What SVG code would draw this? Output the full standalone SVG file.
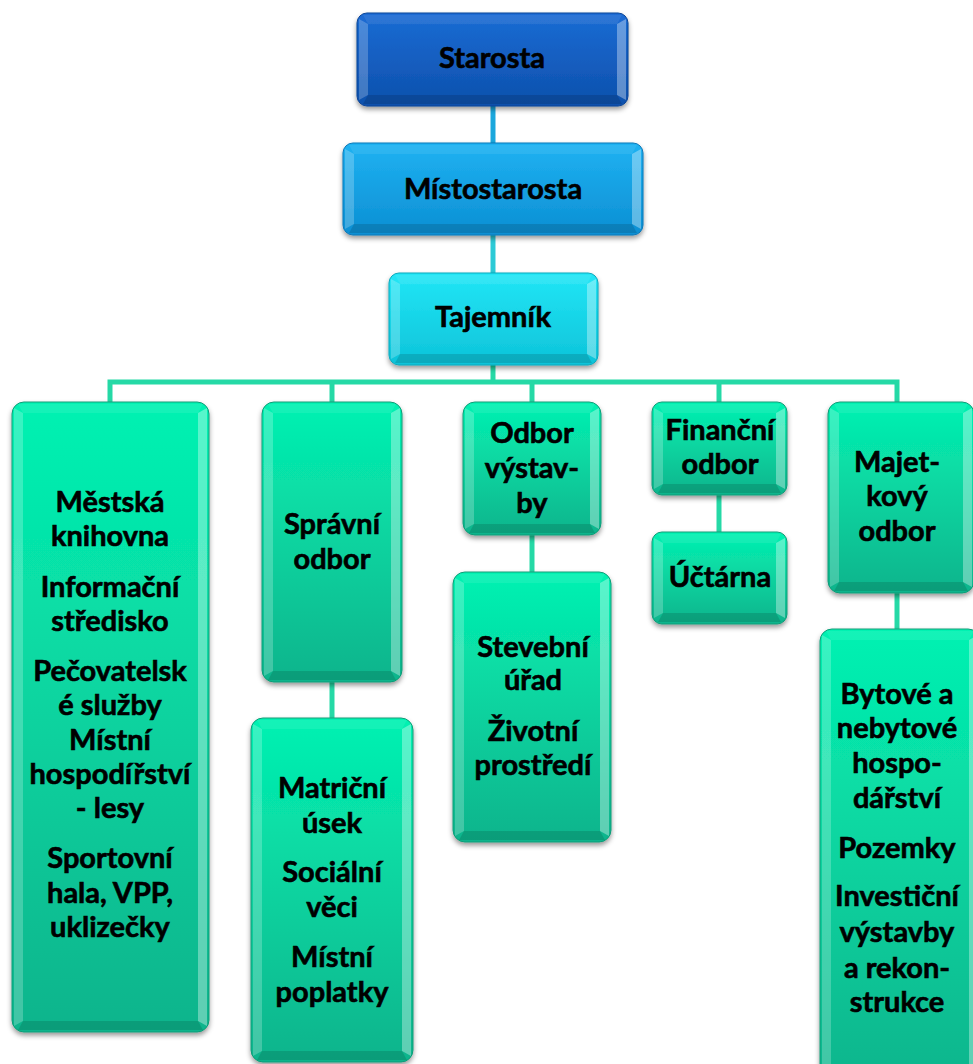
<svg xmlns="http://www.w3.org/2000/svg" width="973" height="1064" viewBox="0 0 973 1064">
<style>
.t{font-family:Lato,"Open Sans","Liberation Sans",sans-serif;font-weight:700;font-size:29px;fill:#000;stroke:#000;stroke-width:.6;text-anchor:middle}
.box{filter:url(#sh)}
.g{fill:url(#gGreen);stroke:#0f9c78;stroke-width:1}
.b1{fill:url(#gBlue1);stroke:#0a4596;stroke-width:1}
.b2{fill:url(#gBlue2);stroke:#0a78b8;stroke-width:1}
.b3{fill:url(#gCyan);stroke:#0aa8bc;stroke-width:1}
.bl{fill:#fff;opacity:.22}
.br{fill:#fff;opacity:.34}
.bb{fill:#000;opacity:.13}
.bt{fill:#fff;opacity:.08}
.c{stroke-width:5;fill:none}
</style>
<defs>
<linearGradient id="gGreen" x1="0" y1="0" x2="0" y2="1"><stop offset="0" stop-color="#03f2b2"/><stop offset="1" stop-color="#11b48c"/></linearGradient>
<linearGradient id="gBlue1" x1="0" y1="0" x2="0" y2="1"><stop offset="0" stop-color="#1b6cd4"/><stop offset="1" stop-color="#0d50ac"/></linearGradient>
<linearGradient id="gBlue2" x1="0" y1="0" x2="0" y2="1"><stop offset="0" stop-color="#1fb2f2"/><stop offset="1" stop-color="#0c8fd3"/></linearGradient>
<linearGradient id="gCyan" x1="0" y1="0" x2="0" y2="1"><stop offset="0" stop-color="#22e6f6"/><stop offset="1" stop-color="#0dc3d9"/></linearGradient>
<filter id="sh" x="-10%" y="-10%" width="120%" height="125%"><feDropShadow dx="0" dy="3" stdDeviation="2.5" flood-color="#000" flood-opacity=".4"/></filter>
</defs>
<rect width="973" height="1064" fill="#fff"/>
<g id="connectors">
<line class="c" x1="493" y1="106" x2="493" y2="143" stroke="#1ba7dc"/>
<line class="c" x1="493" y1="235" x2="493" y2="273" stroke="#2ccad6"/>
<line class="c" x1="493" y1="365" x2="493" y2="384" stroke="#25d9a6"/>
<polyline class="c" points="110,402 110,382 897,382 897,402" stroke="#25d9a6"/>
<line class="c" x1="332" y1="382" x2="332" y2="402" stroke="#25d9a6"/>
<line class="c" x1="532" y1="382" x2="532" y2="402" stroke="#25d9a6"/>
<line class="c" x1="719" y1="382" x2="719" y2="402" stroke="#25d9a6"/>
<line class="c" x1="332" y1="682" x2="332" y2="718" stroke="#25d9a6"/>
<line class="c" x1="532" y1="535" x2="532" y2="572" stroke="#25d9a6"/>
<line class="c" x1="719" y1="495" x2="719" y2="532" stroke="#25d9a6"/>
<line class="c" x1="897" y1="593" x2="897" y2="629" stroke="#25d9a6"/>
</g>
<g id="starosta">
<rect class="box b1" x="357" y="13" width="271" height="93" rx="10"/>
<polygon class="bt" points="363,15 368,24 617,24 622,15"/>
<polygon class="bl" points="359,19 368,24 368,95 359,100"/>
<polygon class="br" points="626,19 617,24 617,95 626,100"/>
<polygon class="bb" points="363,104 368,95 617,95 622,104"/>
<text class="t" x="492" y="68">Starosta</text>
</g>
<g id="mistostarosta">
<rect class="box b2" x="343" y="143" width="300" height="92" rx="10"/>
<polygon class="bt" points="349,145 354,154 632,154 637,145"/>
<polygon class="bl" points="345,149 354,154 354,224 345,229"/>
<polygon class="br" points="641,149 632,154 632,224 641,229"/>
<polygon class="bb" points="349,233 354,224 632,224 637,233"/>
<text class="t" x="493" y="199">Místostarosta</text>
</g>
<g id="tajemnik">
<rect class="box b3" x="389" y="273" width="209" height="92" rx="10"/>
<polygon class="bt" points="395,275 400,284 587,284 592,275"/>
<polygon class="bl" points="391,279 400,284 400,354 391,359"/>
<polygon class="br" points="596,279 587,284 587,354 596,359"/>
<polygon class="bb" points="395,363 400,354 587,354 592,363"/>
<text class="t" x="493" y="327">Tajemník</text>
</g>
<g id="mestska">
<rect class="box g" x="12" y="402" width="197" height="630" rx="12"/>
<polygon class="bt" points="18,404 23,413 198,413 203,404"/>
<polygon class="bl" points="14,408 23,413 23,1021 14,1026"/>
<polygon class="br" points="207,408 198,413 198,1021 207,1026"/>
<polygon class="bb" points="18,1030 23,1021 198,1021 203,1030"/>
<text class="t"><tspan x="110" y="512">Městská</tspan><tspan x="110" y="546">knihovna</tspan><tspan x="110" y="597">Informační</tspan><tspan x="110" y="631">středisko</tspan><tspan x="110" y="681">Pečovatelsk</tspan><tspan x="110" y="715">é služby</tspan><tspan x="110" y="750">Místní</tspan><tspan x="110" y="784">hospodířství</tspan><tspan x="110" y="818">- lesy</tspan><tspan x="110" y="868">Sportovní</tspan><tspan x="110" y="903">hala, VPP,</tspan><tspan x="110" y="937">uklizečky</tspan></text>
</g>
<g id="spravni">
<rect class="box g" x="262" y="402" width="140" height="280" rx="12"/>
<polygon class="bt" points="268,404 273,413 391,413 396,404"/>
<polygon class="bl" points="264,408 273,413 273,671 264,676"/>
<polygon class="br" points="400,408 391,413 391,671 400,676"/>
<polygon class="bb" points="268,680 273,671 391,671 396,680"/>
<text class="t"><tspan x="332" y="534">Správní</tspan><tspan x="332" y="569">odbor</tspan></text>
</g>
<g id="matricni">
<rect class="box g" x="251" y="718" width="162" height="344" rx="12"/>
<polygon class="bt" points="257,720 262,729 402,729 407,720"/>
<polygon class="bl" points="253,724 262,729 262,1051 253,1056"/>
<polygon class="br" points="411,724 402,729 402,1051 411,1056"/>
<polygon class="bb" points="257,1060 262,1051 402,1051 407,1060"/>
<text class="t"><tspan x="332" y="798">Matriční</tspan><tspan x="332" y="833">úsek</tspan><tspan x="332" y="882">Sociální</tspan><tspan x="332" y="917">věci</tspan><tspan x="332" y="967">Místní</tspan><tspan x="332" y="1002">poplatky</tspan></text>
</g>
<g id="vystavba">
<rect class="box g" x="463" y="402" width="138" height="133" rx="12"/>
<polygon class="bt" points="469,404 474,413 590,413 595,404"/>
<polygon class="bl" points="465,408 474,413 474,524 465,529"/>
<polygon class="br" points="599,408 590,413 590,524 599,529"/>
<polygon class="bb" points="469,533 474,524 590,524 595,533"/>
<text class="t"><tspan x="532" y="443">Odbor</tspan><tspan x="532" y="478">výstav-</tspan><tspan x="532" y="513">by</tspan></text>
</g>
<g id="stavebni">
<rect class="box g" x="453" y="572" width="158" height="270" rx="12"/>
<polygon class="bt" points="459,574 464,583 600,583 605,574"/>
<polygon class="bl" points="455,578 464,583 464,831 455,836"/>
<polygon class="br" points="609,578 600,583 600,831 609,836"/>
<polygon class="bb" points="459,840 464,831 600,831 605,840"/>
<text class="t"><tspan x="533" y="657">Stevební</tspan><tspan x="533" y="690">úřad</tspan><tspan x="533" y="741">Životní</tspan><tspan x="533" y="775">prostředí</tspan></text>
</g>
<g id="financni">
<rect class="box g" x="652" y="402" width="135" height="93" rx="10"/>
<polygon class="bt" points="658,404 663,413 776,413 781,404"/>
<polygon class="bl" points="654,408 663,413 663,484 654,489"/>
<polygon class="br" points="785,408 776,413 776,484 785,489"/>
<polygon class="bb" points="658,493 663,484 776,484 781,493"/>
<text class="t"><tspan x="720" y="440">Finanční</tspan><tspan x="720" y="474">odbor</tspan></text>
</g>
<g id="uctarna">
<rect class="box g" x="652" y="532" width="135" height="92" rx="10"/>
<polygon class="bt" points="658,534 663,543 776,543 781,534"/>
<polygon class="bl" points="654,538 663,543 663,613 654,618"/>
<polygon class="br" points="785,538 776,543 776,613 785,618"/>
<polygon class="bb" points="658,622 663,613 776,613 781,622"/>
<text class="t" x="720" y="587">Účtárna</text>
</g>
<g id="majetkovy">
<rect class="box g" x="828" y="402" width="146" height="191" rx="12"/>
<polygon class="bt" points="834,404 839,413 963,413 968,404"/>
<polygon class="bl" points="830,408 839,413 839,582 830,587"/>
<polygon class="br" points="972,408 963,413 963,582 972,587"/>
<polygon class="bb" points="834,591 839,582 963,582 968,591"/>
<text class="t"><tspan x="897" y="472">Majet-</tspan><tspan x="897" y="506">kový</tspan><tspan x="897" y="541">odbor</tspan></text>
</g>
<g id="bytove">
<rect class="box g" x="820" y="629" width="160" height="460" rx="12"/>
<polygon class="bt" points="826,631 831,640 969,640 974,631"/>
<polygon class="bl" points="822,635 831,640 831,1078 822,1083"/>
<polygon class="br" points="978,635 969,640 969,1078 978,1083"/>
<text class="t"><tspan x="897" y="704">Bytové a</tspan><tspan x="897" y="738">nebytové</tspan><tspan x="897" y="773">hospo-</tspan><tspan x="897" y="808">dářství</tspan><tspan x="897" y="858">Pozemky</tspan><tspan x="897" y="906">Investiční</tspan><tspan x="897" y="942">výstavby</tspan><tspan x="897" y="978">a rekon-</tspan><tspan x="897" y="1012">strukce</tspan></text>
</g>
</svg>
